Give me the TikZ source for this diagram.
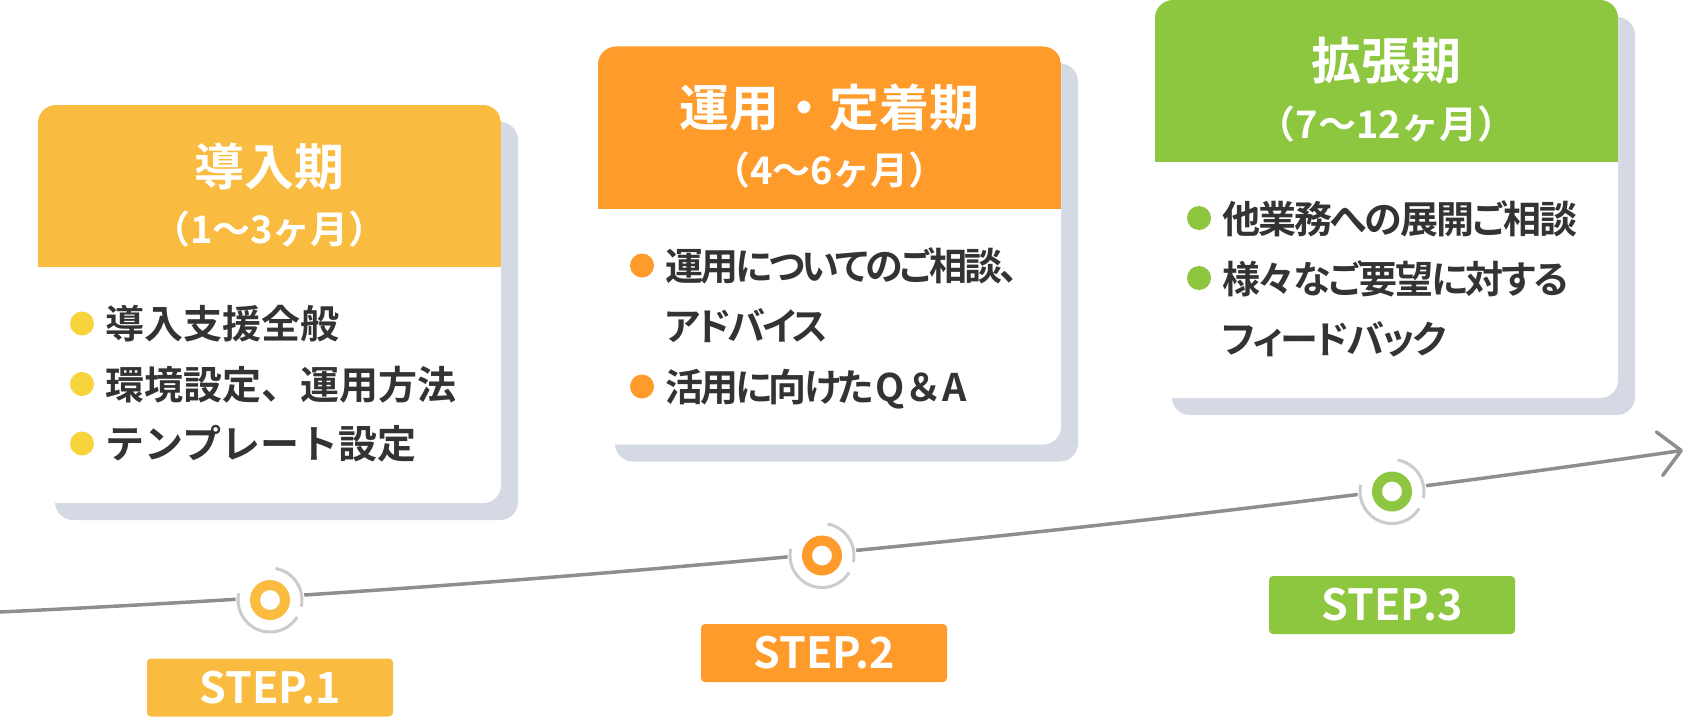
\documentclass[tikz,border=0pt]{standalone}
\usepackage{fontspec}
\usetikzlibrary{arrows.meta}
\IfFontExistsTF{Noto Sans CJK JP Bold}{%
  \newfontfamily\jpb{Noto Sans CJK JP Bold}%
  \newfontfamily\jpbtwo{Noto Sans CJK JP Bold}[RawFeature=+palt,LetterSpace=-8]%
  \newfontfamily\jpbtwof{Noto Sans CJK JP Bold}[LetterSpace=-8]%
  \newfontfamily\jpbthree{Noto Sans CJK JP Bold}[RawFeature=+palt,LetterSpace=-5.5]%
}{%
  \newfontfamily\jpb{Noto Sans CJK JP}[FakeBold=2]%
  \newfontfamily\jpbtwo{Noto Sans CJK JP}[FakeBold=2,RawFeature=+palt,LetterSpace=-8]%
  \newfontfamily\jpbtwof{Noto Sans CJK JP}[FakeBold=2,LetterSpace=-8]%
  \newfontfamily\jpbthree{Noto Sans CJK JP}[FakeBold=2,RawFeature=+palt,LetterSpace=-5.5]%
}
\definecolor{cyel}{HTML}{F9BC40}
\definecolor{cyeldot}{HTML}{F7D43C}
\definecolor{cora}{HTML}{FE9B2A}
\definecolor{cgrn}{HTML}{8DC63F}
\definecolor{cshadow}{HTML}{D5D9E4}
\definecolor{ctext}{HTML}{333333}
\definecolor{cline}{HTML}{8E8E8E}
\definecolor{cring}{HTML}{CCCCCC}
\tikzset{
  titletext/.style={font=\jpb\fontsize{50}{50}\selectfont, text=white, inner sep=0pt},
  subtext/.style={font=\jpb\fontsize{38}{38}\selectfont, text=white, inner sep=0pt},
  itembase/.style={text=ctext, inner sep=0pt, anchor=west, text height=33pt, text depth=3pt},
  itemone/.style={itembase, font=\jpb\fontsize{39}{39}\selectfont},
  itemtwo/.style={itembase, font=\jpbtwo\fontsize{38}{38}\selectfont},
  itemthree/.style={itembase, font=\jpbthree\fontsize{38}{38}\selectfont},
  stepbox/.style={minimum width=246pt, minimum height=58pt, rounded corners=4pt, text=white, font=\jpb\fontsize{43}{43}\selectfont, inner sep=0pt},
  tline/.style={draw=cline, line width=3.5pt, -{Straight Barb[length=22pt,width=44pt,round]}},
  ring/.style={draw=cring, line width=3pt},
  shadowcard/.style={fill=cshadow, rounded corners=18pt},
}
\newcommand\mkmilestone[4]{%
  \coordinate (#1) at (#2,#3);
  \fill[white] (#1) circle (34.5);
  \draw[ring] (#1) ++(-80:32) arc[start angle=-80,end angle=12,radius=32];
  \draw[ring] (#1) ++(32:32) arc[start angle=32,end angle=192,radius=32];
  \fill[#4, even odd rule] (#1) circle (20) circle (10);
}
\newcommand\mkcard[6]{%
  \fill[shadowcard] ({#2+17},{#3+17}) rectangle ({#2+480},{#3+415});
  \fill[white, rounded corners=18pt] (#2,#3) rectangle ({#2+463},{#3+398});
  \begin{scope}
    \clip[rounded corners=18pt] (#2,#3) rectangle ({#2+463},{#3+398});
    \fill[#4] (#2,#3) rectangle ({#2+463},{#3+162});
  \end{scope}
  \node[titletext] (#1title) at ({#2+231.5},{#3+61}) {#5};
  \node[subtext] (#1sub) at ({#2+231.5},{#3+124}) {#6};
}
% #1 name, #2 card left, #3 y, #4 style, #5 dot colour, #6 text
\newcommand\mkitem[6]{%
  \node[#4] (#1) at ({#2+67},#3) {#6};
  \fill[#5] ({#2+44},#3) circle (12);
}
\begin{document}
\begin{tikzpicture}[x=1pt,y=-1pt]
\useasboundingbox (0,0) rectangle (1686,717);
% timeline
\coordinate (tstart) at (0,612);
\coordinate (tend) at (1683,450.3);
\draw[tline] (tstart) .. controls (561,585.6) and (1122,531.7) .. (tend);
% milestones
\mkmilestone{m1}{270}{600}{cyel}
\mkmilestone{m2}{822}{555.5}{cora}
\mkmilestone{m3}{1392}{491.5}{cgrn}
% cards
\mkcard{c1}{38}{105}{cyel}{導入期}{（1〜3ヶ月）}
\mkitem{c1i1}{38}{323.5}{itemone}{cyeldot}{導入支援全般}
\mkitem{c1i2}{38}{384}{itemone}{cyeldot}{環境設定、運用方法}
\mkitem{c1i3}{38}{443.5}{itemone}{cyeldot}{テンプレート設定}
\mkcard{c2}{598}{46.5}{cora}{運用・定着期}{（4〜6ヶ月）}
\mkitem{c2i1}{598}{265.5}{itemtwo}{cora}{運用についてのご相談、}
\node[itemtwo] (c2i2) at (665,325.5) {アドバイス};
\mkitem{c2i3}{598}{386.5}{itemtwo}{cora}{活用に向けた\kern2ptQ{\jpbtwof ＆}A}
\mkcard{c3}{1155}{0}{cgrn}{拡張期}{（7〜12ヶ月）}
\mkitem{c3i1}{1155}{218}{itemthree}{cgrn}{他業務への展開ご相談}
\mkitem{c3i2}{1155}{278}{itemthree}{cgrn}{様々なご要望に対する}
\node[itemthree] (c3i3) at (1222,338) {フィードバック};
% step labels
\node[stepbox, fill=cyel] (s1) at (270,687.5) {STEP.1};
\node[stepbox, fill=cora] (s2) at (824,653) {STEP.2};
\node[stepbox, fill=cgrn] (s3) at (1392,605) {STEP.3};
\end{tikzpicture}
\end{document}
